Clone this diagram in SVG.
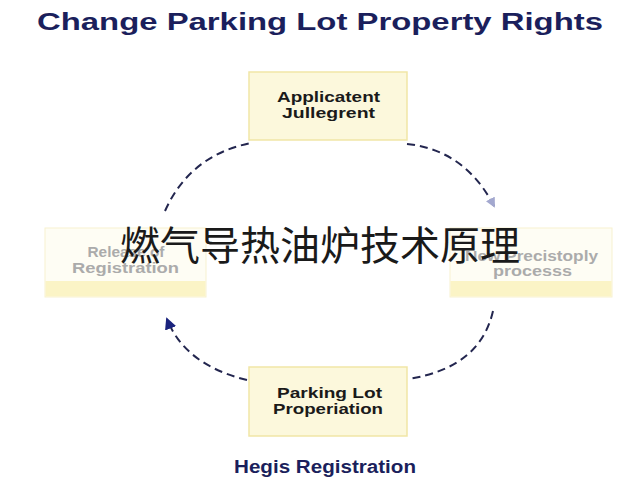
<svg xmlns="http://www.w3.org/2000/svg" width="640" height="480" viewBox="0 0 640 480">
<defs>
<style>
.title{font-family:"Liberation Sans",Arial,sans-serif;font-weight:bold;fill:#1b1f5c}
.box{fill:#fcf8dc;stroke:#f1e6a6;stroke-width:1.5}
.fbox{fill:#fefdf4;stroke:#f7f1d0;stroke-width:1}
.band{fill:#fbf4c6}
.lbl{font-family:"Liberation Sans",Arial,sans-serif;font-weight:bold;font-size:14.5px;fill:#1a1a1a;text-anchor:middle}
.flbl{font-family:"Liberation Sans",Arial,sans-serif;font-weight:bold;font-size:14.5px;fill:#ababab;text-anchor:middle}
.conn{fill:none;stroke:#23264f;stroke-width:2;stroke-dasharray:8 5}
.cn{font-family:"Noto Sans CJK SC","Noto Sans CJK JP",sans-serif;font-size:40px;fill:#1a1a1a}
</style>
<marker id="arrFaded" markerWidth="10" markerHeight="10" refX="8" refY="5" orient="auto" markerUnits="userSpaceOnUse">
<path d="M0,0 L10,5 L0,10 Z" fill="#a3a8cf"/>
</marker>
<marker id="arrNavy" markerWidth="12" markerHeight="12" refX="10" refY="6" orient="auto" markerUnits="userSpaceOnUse">
<path d="M0,0 L12,6 L0,12 Z" fill="#1a237e"/>
</marker>
</defs>
<rect width="640" height="480" fill="#ffffff"/>
<text class="title" x="320" y="30" font-size="24" text-anchor="middle" textLength="566" lengthAdjust="spacingAndGlyphs">Change Parking Lot Property Rights</text>
<g id="connectors">
<path class="conn" d="M165,211 Q190,155 251,143"/>
<path class="conn" d="M407,144 Q465,150 494,206" marker-end="url(#arrFaded)"/>
<path class="conn" d="M493,311 Q480,368 408,379"/>
<path class="conn" d="M247,380 Q185,365 167,319" marker-end="url(#arrNavy)"/>
</g>
<g id="node-top">
<rect class="box" x="249" y="72" width="158" height="68"/>
<text class="lbl" x="328.5" y="102" textLength="103" lengthAdjust="spacingAndGlyphs">Applicatent</text>
<text class="lbl" x="328.5" y="118" textLength="93" lengthAdjust="spacingAndGlyphs">Jullegrent</text>
</g>
<g id="node-left">
<rect class="fbox" x="45" y="228" width="161" height="69"/>
<rect class="band" x="45.5" y="281" width="160" height="15.5"/>
<text class="flbl" x="126" y="257" textLength="77" lengthAdjust="spacingAndGlyphs">Release of</text>
<text class="flbl" x="125.5" y="273" textLength="107" lengthAdjust="spacingAndGlyphs">Registration</text>
</g>
<g id="node-right">
<rect class="fbox" x="450" y="228" width="162" height="69"/>
<rect class="band" x="450.5" y="281" width="161" height="15.5"/>
<text class="flbl" x="531.5" y="261" textLength="133" lengthAdjust="spacingAndGlyphs">New Precistoply</text>
<text class="flbl" x="532.5" y="276" textLength="79" lengthAdjust="spacingAndGlyphs">processs</text>
</g>
<g id="node-bottom">
<rect class="box" x="249" y="367" width="158" height="69"/>
<text class="lbl" x="329.5" y="398" textLength="105" lengthAdjust="spacingAndGlyphs">Parking Lot</text>
<text class="lbl" x="328" y="414" textLength="110" lengthAdjust="spacingAndGlyphs">Properiation</text>
</g>
<text class="title" x="325" y="473" font-size="18" text-anchor="middle" textLength="182" lengthAdjust="spacingAndGlyphs">Hegis Registration</text>
<text class="cn" x="120" y="260" textLength="400" lengthAdjust="spacingAndGlyphs">燃气导热油炉技术原理</text>
</svg>
